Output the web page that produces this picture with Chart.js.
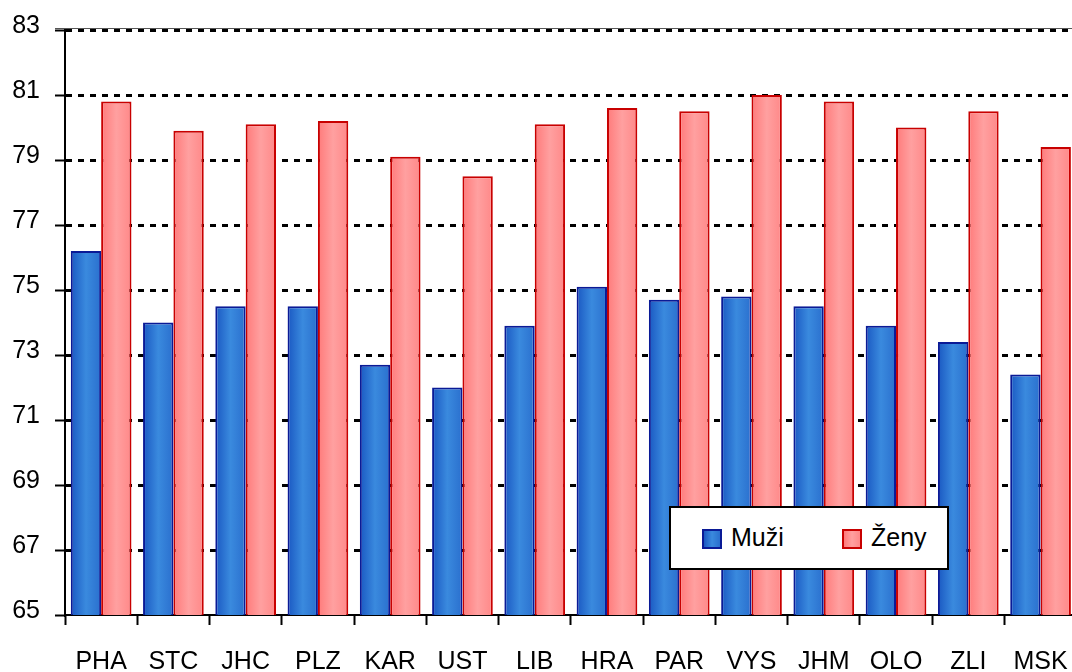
<!DOCTYPE html>
<html>
<head>
<meta charset="utf-8">
<script src="https://cdn.jsdelivr.net/npm/chart.js@4/dist/chart.umd.min.js"></script>
<style>
  html, body { margin: 0; padding: 0; background: #fff; overflow: hidden; width: 1072px; height: 672px; }
  #wrap { position: relative; width: 1090px; height: 672px; }
  #legend {
    position: absolute; left: 669px; top: 506px; width: 280px; height: 64px;
    box-sizing: border-box; border: 2px solid #000; background: #fff;
    font-family: "Liberation Sans", Arial, sans-serif; font-size: 25px; color: #000;
  }
  #legend .sw { position: absolute; top: 21px; width: 20px; height: 20px; box-sizing: border-box; border: 2px solid; }
  #legend .lbl { position: absolute; top: 14px; line-height: 30px; }
</style>
</head>
<body>
<div id="wrap">
  <canvas id="chart" width="1090" height="672"></canvas>
  <div id="legend"></div>
</div>
<script>
// regions
const regions = ['PHA', 'STC', 'JHC', 'PLZ', 'KAR', 'UST', 'LIB', 'HRA', 'PAR', 'VYS', 'JHM', 'OLO', 'ZLI', 'MSK'];
const seriesNames = ['Muži', 'Ženy'];
const muzi = [76.2, 74.0, 74.5, 74.5, 72.7, 72.0, 73.9, 75.1, 74.7, 74.8, 74.5, 73.9, 73.4, 72.4];
const zeny = [80.8, 79.9, 80.1, 80.2, 79.1, 78.5, 80.1, 80.6, 80.5, 81.0, 80.8, 80.0, 80.5, 79.4];

const blueStops = ['#1a58c2', '#3a8ade', '#2a6fce'];
const redStops = ['#ff7a7a', '#ffa0a0', '#ff8888'];
const catPct = 0.84;

// horizontal gradient across each bar
function barFill(stops, side) {
    return function (ctx) {
        const chart = ctx.chart;
        if (!chart.chartArea || ctx.type !== 'data') return stops[1];
        const xs = chart.scales.x;
        const c = xs.getPixelForValue(ctx.dataIndex);
        const half = (xs.width / regions.length) * catPct / 2;
        const x0 = side === 0 ? c - half : c;
        const x1 = side === 0 ? c : c + half;
        const g = chart.ctx.createLinearGradient(x0, 0, x1, 0);
        g.addColorStop(0, stops[0]);
        g.addColorStop(0.5, stops[1]);
        g.addColorStop(1, stops[2]);
        return g;
    };
}

// thin solid line along the top of the plot
const topLine = {
    id: 'topLine',
    beforeDatasetsDraw(chart) {
        const a = chart.chartArea;
        const c = chart.ctx;
        c.save();
        c.strokeStyle = '#555';
        c.lineWidth = 1;
        c.beginPath();
        c.moveTo(a.left - 10, a.top - 1.5);
        c.lineTo(a.right, a.top - 1.5);
        c.stroke();
        c.restore();
    }
};

const font = { family: '"Liberation Sans", Arial, sans-serif', size: 25 };

new Chart(document.getElementById('chart'), {
    type: 'bar',
    data: {
        labels: regions,
        datasets: [{
            label: seriesNames[0],
            data: muzi,
            backgroundColor: barFill(blueStops, 0),
            borderColor: '#0a1a96',
            borderWidth: 2,
            categoryPercentage: catPct,
            barPercentage: 1
        }, {
            label: seriesNames[1],
            data: zeny,
            backgroundColor: barFill(redStops, 1),
            borderColor: '#c80000',
            borderWidth: 2,
            categoryPercentage: catPct,
            barPercentage: 1
        }]
    },
    options: {
        responsive: false,
        animation: false,
        layout: { padding: { top: 30, right: 10, left: 0, bottom: 0 } },
        plugins: { legend: { display: false }, tooltip: { enabled: false } },
        scales: {
            x: {
                offset: true,
                afterFit: function (s) { s.height = 57; },
                grid: { drawOnChartArea: false, drawTicks: true, tickLength: 10, tickColor: '#000', tickWidth: 2, offset: true },
                border: { color: '#000', width: 2 },
                ticks: { color: '#000', font: font, padding: 22, maxRotation: 0, autoSkip: false }
            },
            y: {
                min: 65,
                max: 83,
                afterFit: function (s) { s.width = 65; },
                grid: {
                    color: function (c) { return c.tick && c.tick.value === 65 ? 'rgba(0,0,0,0)' : '#000'; },
                    lineWidth: 3,
                    tickLength: 10, tickColor: '#000', tickWidth: 2, tickBorderDash: []
                },
                border: { color: '#000', width: 2, dash: [6, 6] },
                ticks: { stepSize: 2, color: '#000', font: font, padding: 15, labelOffset: -4 }
            }
        }
    },
    plugins: [topLine]
});

// legend box drawn over the plot
const legend = document.getElementById('legend');
const sw = [
    { left: 33, text: 731 - 669, fill: 'linear-gradient(to right,' + blueStops.join(',') + ')', border: '#0a1a96' },
    { left: 842 - 669, text: 871 - 669, fill: 'linear-gradient(to right,' + redStops.join(',') + ')', border: '#c80000' }
];
seriesNames.forEach(function (name, i) {
    const s = document.createElement('div');
    s.className = 'sw';
    s.style.left = (sw[i].left - 2) + 'px';
    s.style.background = sw[i].fill;
    s.style.borderColor = sw[i].border;
    legend.appendChild(s);
    const t = document.createElement('div');
    t.className = 'lbl';
    t.style.left = (sw[i].text - 2) + 'px';
    t.textContent = name;
    legend.appendChild(t);
});
</script>
</body>
</html>
